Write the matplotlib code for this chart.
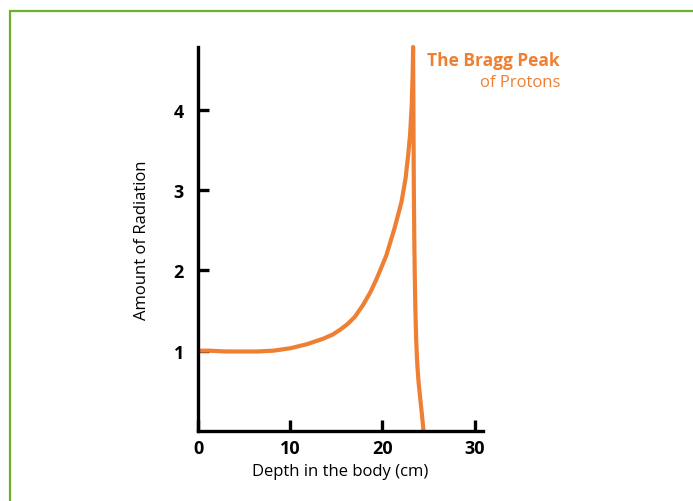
import matplotlib
matplotlib.use("Agg")
import matplotlib.pyplot as plt
from matplotlib.patches import Rectangle

# Data
depth = [0, 1.2, 3.0, 4.5, 6.5, 8.2, 10, 11.8, 13.6, 14.6, 15.4, 16.2, 17.0, 17.9, 18.7, 19.35, 20.4, 21.3, 22.06,
         22.5, 22.8, 23.0, 23.17, 23.28, 23.32,
         23.36, 23.4, 23.45, 23.5, 23.57, 23.66, 23.78, 23.92, 24.1, 24.3, 24.45]
dose = [1.00, 1.00, 0.99, 0.99, 0.99, 1.00, 1.03, 1.08, 1.15, 1.20, 1.26, 1.33, 1.42, 1.57, 1.73, 1.89, 2.18, 2.52, 2.85,
        3.14, 3.45, 3.70, 4.05, 4.47, 4.78,
        3.90, 3.02, 2.40, 1.95, 1.50, 1.12, 0.82, 0.60, 0.40, 0.18, 0.0]
xticks = [0, 10, 20, 30]
yticks = [1, 2, 3, 4]

ORANGE = "#EF7F32"
GREEN = "#6CB12A"

plt.rcParams['font.family'] = ['Open Sans', 'DejaVu Sans']

fig = plt.figure(figsize=(6.93, 5.02), dpi=100)
fig.patches.append(Rectangle((10/693, -0.2), 1.5, 1.2 - 12/502, transform=fig.transFigure,
                             fill=False, edgecolor=GREEN, linewidth=1.6, zorder=0))

ax = fig.add_axes([198/693, (502-432)/502, (483-198)/693, (432-48)/502])
ax.plot(depth, dose, color=ORANGE, linewidth=3.0, solid_capstyle='butt', solid_joinstyle='round',
        zorder=2, clip_on=False)

ax.set_xlim(0, 30.9)
ax.set_ylim(0, 4.78)
ax.set_xticks(xticks)
ax.set_yticks(yticks)
ax.set_xticklabels([str(v) for v in xticks], fontweight='bold', fontsize=13)
ax.set_yticklabels([str(v) for v in yticks], fontweight='bold', fontsize=13)
ax.tick_params(axis='both', direction='in', width=2.4, length=8, color='black', zorder=5)
ax.tick_params(axis='x', pad=6)
ax.tick_params(axis='y', pad=10)
for s in ['top', 'right']:
    ax.spines[s].set_visible(False)
for s in ['left', 'bottom']:
    ax.spines[s].set_linewidth(2.4)
    ax.spines[s].set_zorder(5)

ax.set_xlabel("Depth in the body (cm)", fontsize=12, labelpad=4)
ax.set_ylabel("Amount of Radiation", fontsize=12, labelpad=17)

fig.text(560/693, 1 - 61/502, "The Bragg Peak", color=ORANGE, fontsize=12.5, fontweight='bold',
         ha='right', va='center')
fig.text(560/693, 1 - 83/502, "of Protons", color=ORANGE, fontsize=12,
         ha='right', va='center')

fig.savefig("out.png", dpi=100)
